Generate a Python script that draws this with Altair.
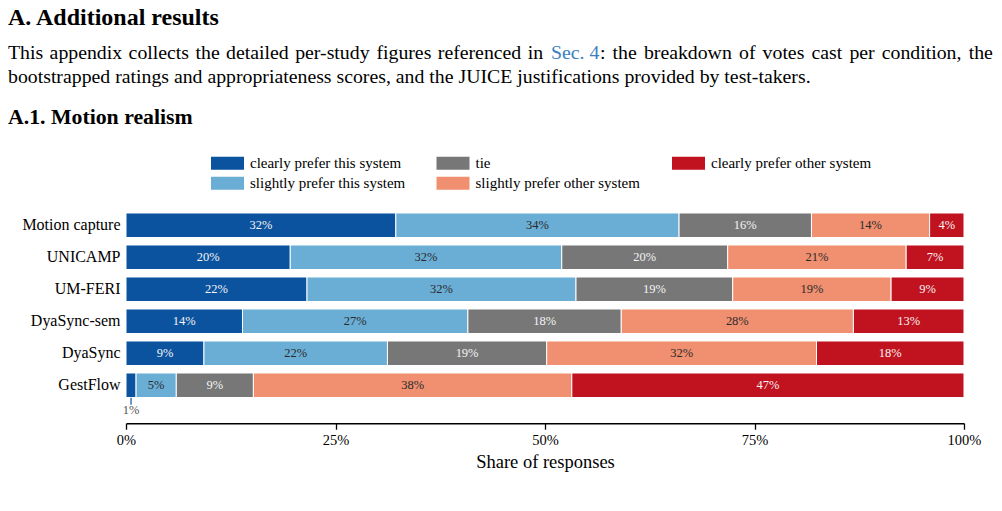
import altair as alt
import pandas as pd

# ---------------- data ----------------
systems = ["Motion capture", "UNICAMP", "UM-FERI", "DyaSync-sem", "DyaSync", "GestFlow"]
categories = [
    "clearly prefer this system",
    "slightly prefer this system",
    "tie",
    "slightly prefer other system",
    "clearly prefer other system",
]
clearly_this = [32.2, 19.6, 21.6, 13.9, 9.3, 1.2]
slightly_this = [33.8, 32.4, 32.1, 26.9, 21.9, 4.8]
tie = [15.8, 19.8, 18.7, 18.3, 19.0, 9.2]
slightly_other = [14.1, 21.3, 18.9, 27.7, 32.2, 38.0]
clearly_other = [4.1, 6.9, 8.7, 13.2, 17.6, 46.8]

cat_colors = ["#0b539f", "#6aaed6", "#777777", "#f09070", "#c1121f"]
label_colors = ["#f4f4f4", "#2a2a2a", "#f4f4f4", "#2a2a2a", "#f4f4f4"]
tick_values = [0, 25, 50, 75, 100]

heading = "A. Additional results"
para1_words = ["This", "appendix", "collects", "the", "detailed", "per-study", "figures",
               "referenced", "in", "Sec. 4", ":", "the", "breakdown", "of", "votes",
               "cast", "per", "condition,", "the"]
para2 = "bootstrapped ratings and appropriateness scores, and the JUICE justifications provided by test-takers."
subheading = "A.1. Motion realism"
x_title = "Share of responses"

FONT = "Liberation Serif"

series = [clearly_this, slightly_this, tie, slightly_other, clearly_other]
rows = []
for ci, (cat, vals) in enumerate(zip(categories, series)):
    for s, v in zip(systems, vals):
        rows.append({"system": s, "category": cat, "rank": ci, "value": v,
                     "tcolor": label_colors[ci]})
df = pd.DataFrame(rows)

base = alt.Chart(df).transform_window(
    cum="sum(value)", groupby=["system"], sort=[alt.SortField("rank")], frame=[None, 0]
).transform_calculate(
    start="datum.cum - datum.value",
    mid="datum.cum - datum.value / 2",
    label="format(datum.value / 100, '.0%')",
)

x_scale = alt.Scale(domain=[0, 100], nice=False, zero=True)
x_axis = alt.Axis(
    values=tick_values, labelExpr="datum.value + '%'", orient="bottom", offset=22,
    grid=False, domainColor="black", domainWidth=1.3, tickColor="black", tickWidth=1.3,
    tickSize=6, labelFont=FONT, labelFontSize=14.5, labelColor="black", labelPadding=4,
    labelFlush=False, titleFont=FONT, titleFontSize=18.5, titleFontWeight="normal",
    titleColor="black", titlePadding=6,
)
y_enc = alt.Y(
    "system:N", sort=systems, title=None,
    scale=alt.Scale(paddingInner=0.234, paddingOuter=0.117),
    axis=alt.Axis(domain=False, ticks=False, labelFont=FONT, labelFontSize=16,
                  labelColor="black", labelPadding=6, labelLimit=0),
)

bars = base.mark_bar(stroke="white", strokeWidth=1).encode(
    x=alt.X("start:Q", scale=x_scale, axis=x_axis, title=x_title),
    x2="cum:Q",
    y=y_enc,
    color=alt.Color(
        "category:N",
        scale=alt.Scale(domain=categories, range=cat_colors),
        legend=alt.Legend(
            title=None, orient="none", legendX=91.5, legendY=-56, columns=3,
            symbolType="M-1.65,-0.65H1.65V0.65H-1.65Z", symbolSize=400,
            symbolStrokeWidth=0, symbolOpacity=1, labelFont=FONT, labelFontSize=15,
            labelColor="black", rowPadding=2, columnPadding=30.5, labelOffset=12.5,
            padding=0, labelLimit=0,
        ),
    ),
)

inner_text = base.transform_filter("datum.value >= 3").mark_text(
    font=FONT, fontSize=12.5, baseline="middle", align="center"
).encode(
    x=alt.X("mid:Q", scale=x_scale, axis=x_axis, title=x_title),
    y=y_enc,
    text="label:N",
    fill=alt.Fill("tcolor:N", scale=None, legend=None),
)

small_text = base.transform_filter("datum.value < 3").mark_text(
    font=FONT, fontSize=12.5, baseline="middle", align="center", dy=24.5, color="#555555"
).encode(
    x=alt.X("mid:Q", scale=x_scale, axis=x_axis, title=x_title),
    y=y_enc,
    text="label:N",
)

leader = base.transform_filter("datum.value < 3").mark_tick(
    orient="vertical", size=7, thickness=1.2, yOffset=16, color="#0b539f", opacity=1
).encode(
    x=alt.X("mid:Q", scale=x_scale, axis=x_axis, title=x_title),
    y=y_enc,
)


def page_text(txt, x, y, size, bold=False, color="black", align="left"):
    return alt.Chart(pd.DataFrame({"t": [txt]})).mark_text(
        align=align, baseline="alphabetic", font=FONT, fontSize=size,
        fontWeight="bold" if bold else "normal", color=color,
    ).encode(text="t:N", x=alt.value(x), y=alt.value(y))


ox, oy = 126, 209.26
P = 19.8
L1 = 59.5 - oy
# left edges (page pixels) of the words of the justified first line
line1_x = [8, 49.6, 128.6, 195.5, 226.1, 295.2, 376.4, 437.8, 527.7, 551, 600,
           612.6, 643.9, 739, 762.6, 811.5, 849.4, 881.8, 968.7]
texts = [page_text(heading, 8 - ox, 25 - oy, 24, bold=True)]
for w, xx in zip(para1_words, line1_x):
    texts.append(page_text(w, xx - ox, L1, P,
                           color="#3a7fc1" if w == "Sec. 4" else "black"))
texts += [
    page_text(para2, 8 - ox, 82.7 - oy, P),
    page_text(subheading, 8 - ox, 124.5 - oy, 21.8, bold=True),
]

chart = alt.layer(bars, inner_text, small_text, leader, *texts).properties(
    width=838, height=192,
    autosize=alt.AutoSizeParams(type="none"),
    padding={"left": 118, "top": 201.26, "right": 30, "bottom": 100},
).configure_view(stroke=None)

chart.save("out.html", embed_options={"renderer": "svg", "actions": False})
